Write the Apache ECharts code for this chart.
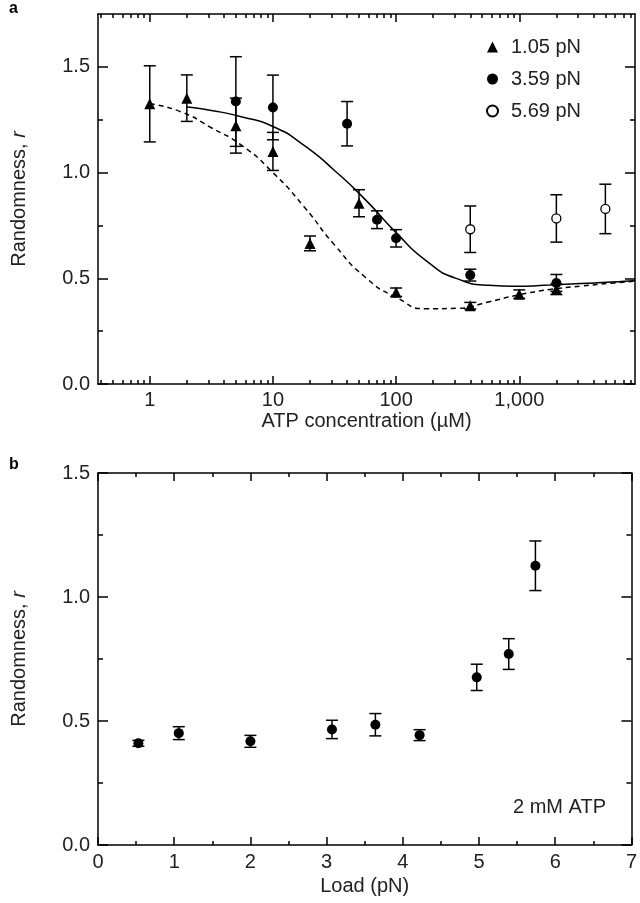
<!DOCTYPE html>
<html>
<head>
<meta charset="utf-8">
<title>Randomness vs ATP and load</title>
<script src="https://cdn.jsdelivr.net/npm/echarts@6/dist/echarts.min.js"></script>
<style>
    html, body { margin: 0; padding: 0; background: #fff; }
    #chart { width: 640px; height: 903px; }
</style>
</head>
<body>
<div id="chart"></div>
<script>
// Panel a: randomness vs ATP concentration (uM), three loads
const atpTri = [1, 2, 5, 10, 20, 50, 100, 400, 1000, 2000];
const rTri = [1.325, 1.352, 1.222, 1.10, 0.665, 0.855, 0.434, 0.370, 0.425, 0.448];
const errTri = [0.18, 0.11, 0.13, 0.09, 0.035, 0.064, 0.02, 0.016, 0.02, 0.025];

const atpDot = [5, 10, 40, 70, 100, 400, 2000];
const rDot = [1.336, 1.308, 1.231, 0.777, 0.689, 0.515, 0.478];
const errDot = [0.212, 0.153, 0.105, 0.042, 0.041, 0.028, 0.04];

const atpOpen = [400, 2000, 5000];
const rOpen = [0.732, 0.783, 0.828];
const errOpen = [0.11, 0.112, 0.117];

const fitSolidX = [2, 3.16, 5.62, 10, 17.8, 31.6, 56.2, 100, 178, 316, 562, 1000, 1778, 3162, 5623, 8700];
const fitSolidY = [1.31, 1.294, 1.263, 1.218, 1.13, 1.01, 0.872, 0.716, 0.58, 0.497, 0.467, 0.462, 0.468, 0.475, 0.482, 0.49];
const fitDashX = [1, 1.78, 3.16, 5.62, 10, 17.8, 31.6, 56.2, 100, 178, 316, 562, 1000, 1778, 3162, 5623, 8700];
const fitDashY = [1.325, 1.288, 1.212, 1.127, 1.0, 0.84, 0.658, 0.505, 0.41, 0.356, 0.358, 0.388, 0.422, 0.447, 0.463, 0.477, 0.486];

const legendNames = ['1.05 pN', '3.59 pN', '5.69 pN'];

// Panel b: randomness vs load at 2 mM ATP
const load = [0.53, 1.06, 2.0, 3.07, 3.64, 4.22, 4.97, 5.39, 5.74];
const rLoad = [0.41, 0.451, 0.418, 0.466, 0.485, 0.443, 0.676, 0.770, 1.126];
const errLoad = [0.012, 0.026, 0.024, 0.037, 0.045, 0.022, 0.053, 0.062, 0.10];

// tick positions
const atpMajor = [1, 10, 100, 1000];
const atpMinor = [0.4, 0.5, 0.6, 0.7, 0.8, 0.9, 2, 3, 4, 5, 6, 7, 8, 9, 20, 30, 40, 50, 60, 70, 80, 90,
    200, 300, 400, 500, 600, 700, 800, 900, 2000, 3000, 4000, 5000, 6000, 7000, 8000];
const loadMajor = [0, 1, 2, 3, 4, 5, 6, 7];
const loadMinor = [0.5, 1.5, 2.5, 3.5, 4.5, 5.5, 6.5];
const rMajor = [0, 0.5, 1.0, 1.5];
const rMinor = [0.25, 0.75, 1.25];

const ink = '#000';
const textColor = '#222';
const font = 'Liberation Sans, Arial, sans-serif';
const fontSize = 20;

function pairs(xs, ys) {
    return xs.map((x, i) => [x, ys[i]]);
}

function errRows(xs, ys, es) {
    return xs.map((x, i) => [x, ys[i] - es[i], ys[i] + es[i]]);
}

// vertical bar with caps
function renderErrorBar(params, api) {
    const x = api.value(0);
    const lo = api.coord([x, api.value(1)]);
    const hi = api.coord([x, api.value(2)]);
    const cap = 6;
    const style = { stroke: ink, lineWidth: 1.5, fill: null };
    return {
        type: 'group',
        children: [
            { type: 'line', shape: { x1: lo[0], y1: lo[1], x2: hi[0], y2: hi[1] }, style: style },
            { type: 'line', shape: { x1: lo[0] - cap, y1: lo[1], x2: lo[0] + cap, y2: lo[1] }, style: style },
            { type: 'line', shape: { x1: hi[0] - cap, y1: hi[1], x2: hi[0] + cap, y2: hi[1] }, style: style }
        ]
    };
}

// one axis layer: either the labelled major one or a bare minor one
function axisLayer(gridIndex, type, position, min, max, ticks, tickLen, opts) {
    opts = opts || {};
    return {
        type: type,
        gridIndex: gridIndex,
        position: position,
        min: min,
        max: max,
        logBase: 10,
        name: opts.name || '',
        nameLocation: 'middle',
        nameGap: opts.nameGap || 30,
        nameTextStyle: {
            color: textColor,
            fontFamily: font,
            fontSize: fontSize,
            rich: { i: { fontStyle: 'italic', fontFamily: font, fontSize: fontSize, color: textColor } }
        },
        axisLine: { show: !!opts.line, onZero: false, lineStyle: { color: ink, width: 1.5 } },
        axisTick: {
            show: true,
            inside: true,
            length: tickLen,
            customValues: ticks,
            lineStyle: { color: ink, width: 1.5 }
        },
        axisLabel: {
            show: !!opts.labels,
            customValues: opts.labels || [],
            formatter: opts.formatter,
            margin: opts.margin || 7,
            color: textColor,
            fontFamily: font,
            fontSize: fontSize
        },
        splitLine: { show: false },
        minorTick: { show: false }
    };
}

function fixed1(v) {
    return Number(v).toFixed(1);
}

function thousands(v) {
    return Number(v) >= 1000 ? '1,000' : String(Math.round(v));
}

function initChart() {
    const chart = echarts.init(document.getElementById('chart'), null, { renderer: 'canvas' });

    const xAxes = [
        // panel a
        axisLayer(0, 'log', 'bottom', 0.38, 8700, atpMajor, 8, {
            line: true, labels: atpMajor, formatter: thousands,
            name: 'ATP concentration (\u00b5M)', nameGap: 27, margin: 6
        }),
        axisLayer(0, 'log', 'bottom', 0.38, 8700, atpMinor, 4),
        axisLayer(0, 'log', 'top', 0.38, 8700, atpMajor, 8, { line: true }),
        axisLayer(0, 'log', 'top', 0.38, 8700, atpMinor, 4),
        // panel b
        axisLayer(1, 'value', 'bottom', 0, 7, loadMajor, 8, {
            line: true, labels: loadMajor, formatter: v => String(v),
            name: 'Load (pN)', nameGap: 31, margin: 7
        }),
        axisLayer(1, 'value', 'bottom', 0, 7, loadMinor, 4),
        axisLayer(1, 'value', 'top', 0, 7, loadMajor, 8, { line: true }),
        axisLayer(1, 'value', 'top', 0, 7, loadMinor, 4)
    ];

    const yAxes = [
        axisLayer(0, 'value', 'left', 0, 1.75, rMajor, 10, {
            line: true, labels: rMajor, formatter: fixed1,
            name: 'Randomness, {i|r}', nameGap: 69, margin: 8
        }),
        axisLayer(0, 'value', 'left', 0, 1.75, rMinor, 5),
        axisLayer(0, 'value', 'right', 0, 1.75, rMajor, 10, { line: true }),
        axisLayer(0, 'value', 'right', 0, 1.75, rMinor, 5),
        axisLayer(1, 'value', 'left', 0, 1.5, rMajor, 10, {
            line: true, labels: rMajor, formatter: fixed1,
            name: 'Randomness, {i|r}', nameGap: 69, margin: 8
        }),
        axisLayer(1, 'value', 'left', 0, 1.5, rMinor, 5),
        axisLayer(1, 'value', 'right', 0, 1.5, rMajor, 10, { line: true }),
        axisLayer(1, 'value', 'right', 0, 1.5, rMinor, 5)
    ];

    const option = {
        backgroundColor: '#fff',
        animation: false,
        grid: [
            { left: 98, top: 14, width: 537, height: 370 },
            { left: 98, top: 473, width: 539, height: 372 }
        ],
        legend: {
            data: [
                { name: legendNames[0], icon: 'triangle' },
                { name: legendNames[1], icon: 'circle' },
                { name: legendNames[2], icon: 'circle' }
            ],
            orient: 'vertical',
            left: 481,
            top: 32,
            itemWidth: 11,
            itemHeight: 11,
            itemGap: 12,
            selectedMode: false,
            textStyle: { color: textColor, fontFamily: font, fontSize: fontSize, padding: [0, 0, 0, 8] }
        },
        xAxis: xAxes,
        yAxis: yAxes,
        graphic: [
            { type: 'text', left: 9, top: 1, style: { text: 'a', font: 'bold 16px ' + font, fill: ink } },
            { type: 'text', left: 9, top: 457, style: { text: 'b', font: 'bold 16px ' + font, fill: ink } },
            { type: 'text', right: 34, top: 797, style: { text: '2 mM ATP', font: fontSize + 'px ' + font, fill: textColor } }
        ],
        series: [
            // fitted curves
            {
                type: 'line', xAxisIndex: 0, yAxisIndex: 0, smooth: 0.6, showSymbol: false,
                data: pairs(fitSolidX, fitSolidY),
                lineStyle: { color: ink, width: 1.5 }, z: 1
            },
            {
                type: 'line', xAxisIndex: 0, yAxisIndex: 0, smooth: 0.6, showSymbol: false,
                data: pairs(fitDashX, fitDashY),
                lineStyle: { color: ink, width: 1.5, type: [5, 4] }, z: 1
            },
            // error bars
            {
                type: 'custom', xAxisIndex: 0, yAxisIndex: 0, renderItem: renderErrorBar,
                data: errRows(atpTri, rTri, errTri), encode: { x: 0, y: [1, 2] }, z: 2
            },
            {
                type: 'custom', xAxisIndex: 0, yAxisIndex: 0, renderItem: renderErrorBar,
                data: errRows(atpDot, rDot, errDot), encode: { x: 0, y: [1, 2] }, z: 2
            },
            {
                type: 'custom', xAxisIndex: 0, yAxisIndex: 0, renderItem: renderErrorBar,
                data: errRows(atpOpen, rOpen, errOpen), encode: { x: 0, y: [1, 2] }, z: 2
            },
            // markers
            {
                name: legendNames[0], type: 'scatter', xAxisIndex: 0, yAxisIndex: 0,
                symbol: 'triangle', symbolSize: 11,
                data: pairs(atpTri, rTri), itemStyle: { color: ink, opacity: 1 }, z: 3
            },
            {
                name: legendNames[1], type: 'scatter', xAxisIndex: 0, yAxisIndex: 0,
                symbol: 'circle', symbolSize: 10,
                data: pairs(atpDot, rDot), itemStyle: { color: ink, opacity: 1 }, z: 3
            },
            {
                name: legendNames[2], type: 'scatter', xAxisIndex: 0, yAxisIndex: 0,
                symbol: 'circle', symbolSize: 9,
                data: pairs(atpOpen, rOpen),
                itemStyle: { color: '#fff', borderColor: ink, borderWidth: 1.3, opacity: 1 }, z: 3
            },
            // panel b
            {
                type: 'custom', xAxisIndex: 4, yAxisIndex: 4, renderItem: renderErrorBar,
                data: errRows(load, rLoad, errLoad), encode: { x: 0, y: [1, 2] }, z: 2
            },
            {
                type: 'scatter', xAxisIndex: 4, yAxisIndex: 4,
                symbol: 'circle', symbolSize: 10,
                data: pairs(load, rLoad), itemStyle: { color: ink, opacity: 1 }, z: 3
            }
        ]
    };

    chart.setOption(option);
    return chart;
}

window.chartInstance = initChart();
</script>
</body>
</html>
